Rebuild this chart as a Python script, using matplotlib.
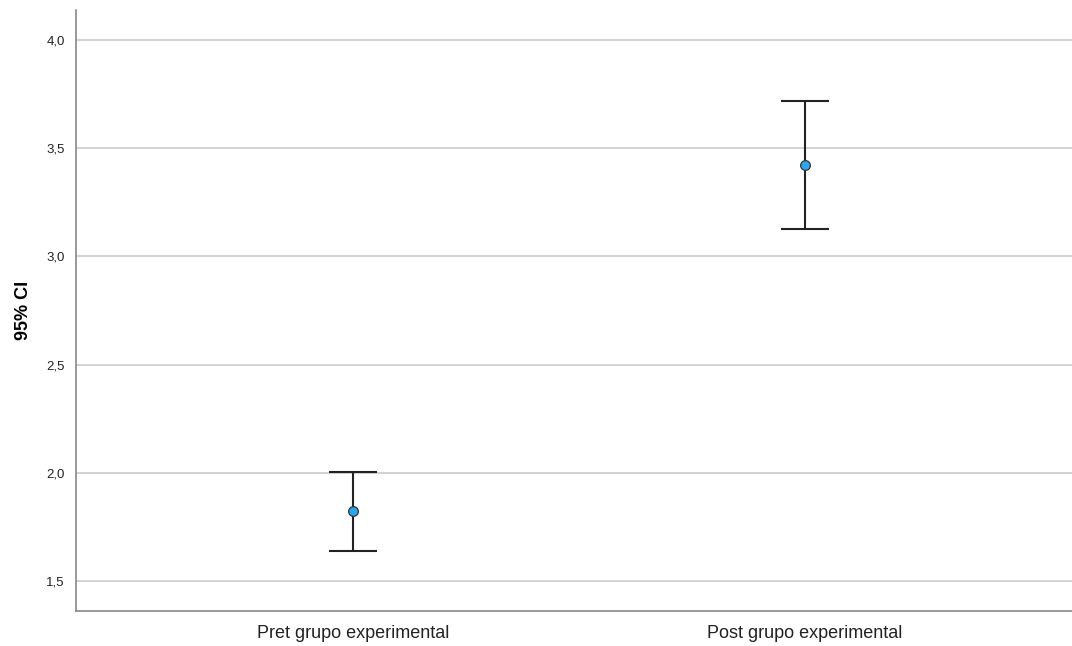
import numpy as np
import matplotlib.pyplot as plt

plt.rcParams['font.family'] = ['Liberation Sans', 'DejaVu Sans']

# CI data
groups = ["Pret grupo experimental", "Post grupo experimental"]
means = [1.824, 3.421]
lower = [1.639, 3.129]
upper = [2.005, 3.718]
yticks = [1.5, 2.0, 2.5, 3.0, 3.5, 4.0]
ytick_labels = ["1,5", "2,0", "2,5", "3,0", "3,5", "4,0"]

fig = plt.figure(figsize=(10.72, 6.46), dpi=100)
ax = fig.add_axes([76/1072, 35/646, 996/1072, 601/646])

x = np.arange(len(groups))
m = np.array(means)
err = np.array([m - np.array(lower), np.array(upper) - m])

for yt in yticks:
    ax.axhline(yt, color='#cfcfcf', lw=1.3, zorder=0)

ax.errorbar(x, m, yerr=err, fmt='none', ecolor='#222222', elinewidth=1.5,
            capsize=17, capthick=1.5, zorder=2)
ax.plot(x, m, 'o', ms=7, mfc='#2ea6ee', mec='#333333', mew=0.9, zorder=3)

ax.set_xlim(-0.613, 1.591)
ax.set_ylim(1.361, 4.139)
ax.set_xticks(x)
ax.set_xticklabels(groups, fontsize=13, color='#222222')
ax.set_yticks(yticks)
ax.set_yticklabels(ytick_labels, fontsize=9.5, color='#222222')
ax.tick_params(length=0, pad=8)
ax.tick_params(axis='x', pad=10)
ax.set_ylabel("95% CI", fontsize=13, fontweight='bold')
ax.yaxis.set_label_coords(-0.044, 0.5)

for s in ['top', 'right']:
    ax.spines[s].set_visible(False)
for s in ['left', 'bottom']:
    ax.spines[s].set_color('#888888')
    ax.spines[s].set_linewidth(1.2)

fig.savefig("out.png", dpi=100)
